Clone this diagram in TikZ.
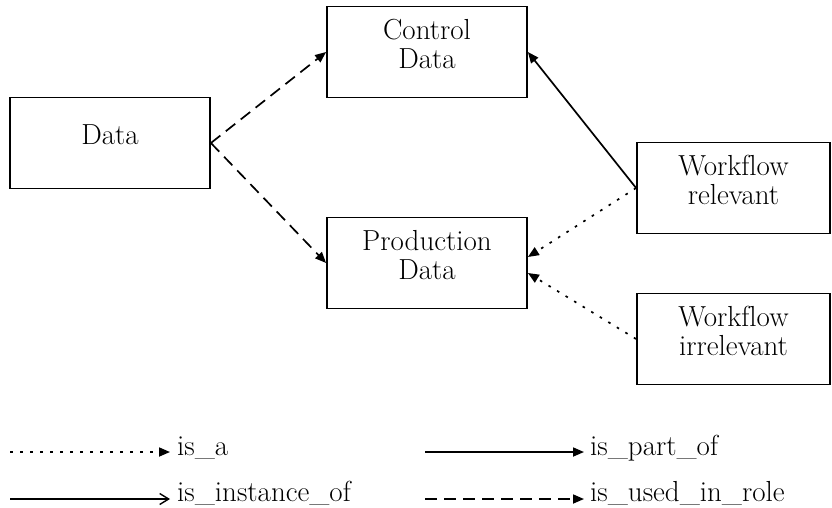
\documentclass[tikz,border=0pt]{standalone}
\usetikzlibrary{arrows.meta}
% "f" and "l" are set apart, without the fl ligature
\newcommand{\wfl}{Workf\kern0pt low}
\begin{document}
\begin{tikzpicture}[x=1pt,y=-1pt,
  font=\fontsize{29}{29}\selectfont,
  box/.style={draw, line width=1.8pt, rectangle, inner sep=0pt, align=center,
    minimum width=200pt, minimum height=91pt, text depth=17pt},
  tip/.style={-{Triangle[length=11pt,width=9pt]}},
  link/.style={line width=1.7pt},
  usedin/.style={link, tip, dash pattern=on 12pt off 7pt},
  isa/.style={link, tip, dash pattern=on 2.6pt off 7.4pt},
  partof/.style={link, tip},
  instof/.style={link, -{Straight Barb[length=9pt,width=11pt,line width=1.4pt]}},
  legendtext/.style={anchor=base west, inner sep=0pt}]
  \useasboundingbox (0,0) rectangle (832,507);

  % data objects
  \node[box] (data) at (110,143) {Data};
  \node[box] (ctrl) at (427,52) {Control\\Data};
  \node[box] (prod) at (427,263) {Production\\Data};
  \node[box, minimum width=193pt] (wfrel) at (733.5,188) {\wfl\\relevant};
  \node[box, minimum width=193pt] (wfirr) at (733.5,339) {\wfl\\irrelevant};

  % relations between the objects
  \draw[usedin] (data.east) -- (ctrl.west);
  \draw[usedin] (data.east) -- (prod.west);
  \draw[partof] (wfrel.west) -- (ctrl.east);
  \draw[isa] (wfrel.west) -- ([yshift=6pt]prod.east);
  \draw[isa] (wfirr.west) -- ([yshift=-10pt]prod.east);

  % legend
  \coordinate (isaS) at (10,452);   \coordinate (isaE) at (170,452);
  \coordinate (insS) at (10,499);   \coordinate (insE) at (170,499);
  \coordinate (partS) at (425,452); \coordinate (partE) at (584,452);
  \coordinate (roleS) at (425,499); \coordinate (roleE) at (584,499);
  \draw[isa] (isaS) -- (isaE);
  \draw[instof] (insS) -- (insE);
  \draw[partof] (partS) -- (partE);
  \draw[usedin] (roleS) -- (roleE);
  \node[legendtext] (lisa) at (177,455) {is\_a};
  \node[legendtext] (lins) at (177,501) {is\_instance\_of};
  \node[legendtext] (lpart) at (590,455) {is\_part\_of};
  \node[legendtext] (lrole) at (590,501) {is\_used\_in\_role};
\end{tikzpicture}
\end{document}
